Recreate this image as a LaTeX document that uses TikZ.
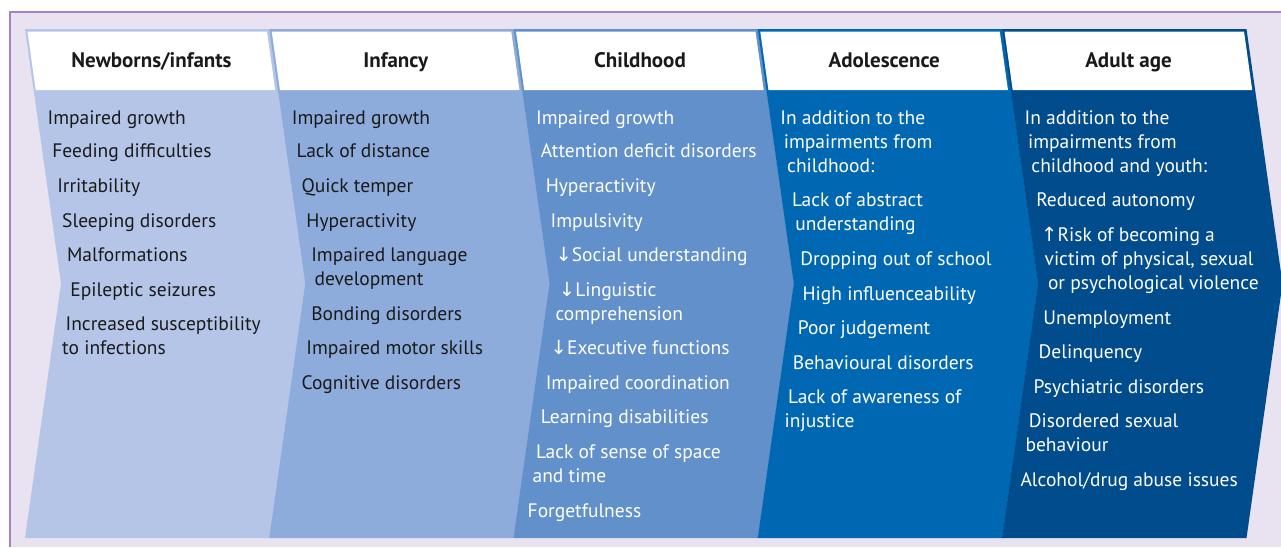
\documentclass[tikz,border=0pt]{standalone}
\usepackage{fontspec}
\setmainfont{PT Sans}
\newfontfamily\arrowfont{DejaVu Sans}
\usepackage{tikz}
\usetikzlibrary{positioning, calc}
\definecolor{lavender}{HTML}{E9E3F1}
\definecolor{framepurple}{HTML}{A981C6}
\definecolor{ageA}{HTML}{B4C5E8}
\definecolor{ageB}{HTML}{8EACDB}
\definecolor{ageC}{HTML}{6190CB}
\definecolor{ageD}{HTML}{0068B3}
\definecolor{ageE}{HTML}{004C8C}
\definecolor{inkdark}{HTML}{1A1A1A}
\newcommand{\arrdown}{{\arrowfont\char"2193}}
\newcommand{\arrup}{{\arrowfont\char"2191}}
\tikzstyle{head}=[%
      font=\bfseries\fontsize{21}{24}\selectfont, text=inkdark, anchor=base, inner sep=0pt
]
\tikzstyle{item}=[%
      font=\fontsize{19.5}{24}\selectfont, anchor=base west, inner sep=0pt
]
\begin{document}
\begin{tikzpicture}[x=1pt, y=-1pt]
    \useasboundingbox (0,0) rectangle (1281,547);
    \fill[lavender] (10,12) rectangle (1281,547);
    \draw[framepurple, line width=1.5pt] (1281,12) -- (10,12) -- (10,547);

    % chevrons with white heads
    \foreach \i/\col/\title in {0/ageA/{Newborns/infants}, 1/ageB/Infancy, 2/ageC/Childhood, 3/ageD/Adolescence, 4/ageE/Adult age} {
      \pgfmathsetmacro\xa{25+244.25*\i}
      \fill[\col] (\xa,29) -- ++(244.5,0) -- ++(36,254.5) -- ++(-36,254.5) -- ++(-244.5,0) -- ++(36,-254.5) -- cycle;
      \fill[white] (\xa+2.5,31.5) -- ++(239.5,0) -- ++(8.2,58.5) -- ++(-239.5,0) -- cycle;
      \node[head] (h\i) at (\xa+126.5,67) {\title};
    }

    \foreach \yy/\txt [count=\n] in {117/Impaired growth, 150/Feeding difficulties, 185/Irritability, 220/Sleeping disorders, 254/Malformations, 289/Epileptic seizures, 323/Increased susceptibility, 347/to infections} {
      \pgfmathsetmacro\xt{25+10+0.1415*min(\yy-29,538-\yy)}
      \node[item, text=inkdark] (a\n) at (\xt,\yy+7) {\txt};
    }
    \foreach \yy/\txt [count=\n] in {117/Impaired growth, 150/Lack of distance, 185/Quick temper, 220/Hyperactivity, 254/Impaired language, 278/development, 313/Bonding disorders, 347/Impaired motor skills, 382/Cognitive disorders} {
      \pgfmathsetmacro\xt{269.25+10+0.1415*min(\yy-29,538-\yy)}
      \node[item, text=inkdark] (b\n) at (\xt,\yy+7) {\txt};
    }
    \foreach \yy/\txt [count=\n] in {117/Impaired growth, 150/Attention deficit disorders, 185/Hyperactivity, 220/Impulsivity, 254/{\arrdown Social understanding}, 289/{\arrdown Linguistic}, 313/comprehension, 347/{\arrdown Executive functions}, 382/Impaired coordination, 416/Learning disabilities, 451/Lack of sense of space, 475/and time, 510/Forgetfulness} {
      \pgfmathsetmacro\xt{513.5+10+0.1415*min(\yy-29,538-\yy)}
      \node[item, text=white] (c\n) at (\xt,\yy+7) {\txt};
    }
    \foreach \yy/\txt [count=\n] in {117/In addition to the, 141/impairments from, 165/childhood:, 199/Lack of abstract, 223/understanding, 258/Dropping out of school, 293/High influenceability, 327/Poor judgement, 362/Behavioural disorders, 396/Lack of awareness of, 420/injustice} {
      \pgfmathsetmacro\xt{757.75+10+0.1415*min(\yy-29,538-\yy)}
      \node[item, text=white] (d\n) at (\xt,\yy+7) {\txt};
    }
    \foreach \yy/\txt [count=\n] in {117/In addition to the, 141/impairments from, 165/childhood and youth:, 199/Reduced autonomy, 234/{\arrup Risk of becoming a}, 258/{victim of physical, sexual}, 282/or psychological violence, 317/Unemployment, 351/Delinquency, 386/Psychiatric disorders, 420/Disordered sexual, 444/behaviour, 479/{Alcohol/drug abuse issues}} {
      \pgfmathsetmacro\xt{1002+10+0.1415*min(\yy-29,538-\yy)}
      \node[item, text=white] (e\n) at (\xt,\yy+7) {\txt};
    }
\end{tikzpicture}
\end{document}
